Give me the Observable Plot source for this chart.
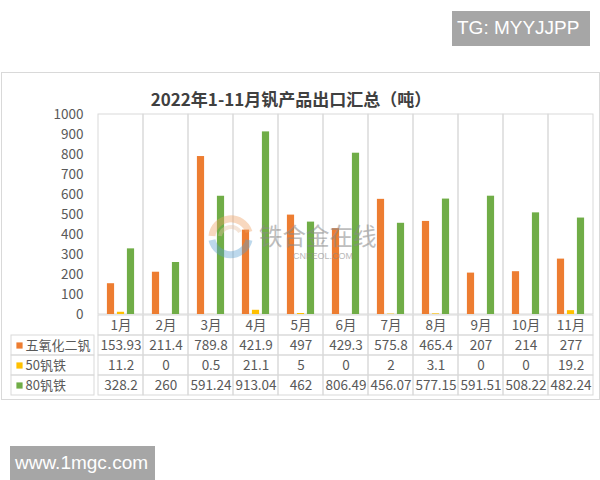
<!DOCTYPE html>
<html><head><meta charset="utf-8">
<script src="https://cdn.jsdelivr.net/npm/d3@7"></script>
<script src="https://cdn.jsdelivr.net/npm/@observablehq/plot@0.6"></script>
<style>
body{margin:0;background:#fff;}
#root{position:relative;width:600px;height:480px;background:#fff;overflow:hidden;font-family:"Noto Sans CJK SC","Noto Sans",sans-serif;}
.abs{position:absolute;}
.box{position:absolute;background:#a6a6a6;color:#fff;font-family:"Liberation Sans",Arial,sans-serif;font-size:19px;line-height:34px;padding-left:5px;box-sizing:border-box;}
</style>
</head><body>
<div id="root">
  <div class="abs" style="left:1px;top:72px;width:597px;height:326px;border:1px solid #d9d9d9;"></div>
  <div id="title" class="abs" style="left:0;top:87px;width:582px;text-align:center;font-size:17px;font-weight:bold;color:#404040;line-height:24px;"></div>
  <div id="plotA" class="abs" style="left:0;top:104px;"></div>
  <div id="plotB" class="abs" style="left:0;top:314px;"></div>
  <div id="plotC" class="abs" style="left:11px;top:334px;"></div>
  <svg class="abs" style="left:0;top:0;pointer-events:none" width="600" height="480">
    <g opacity="0.4">
      <path d="M212,236 A19,19 0 0 1 249,232" fill="none" stroke="#f0a060" stroke-width="7"/>
      <path d="M249,240 A19,19 0 0 1 212,240" fill="none" stroke="#5a9fd0" stroke-width="7"/>
      <path d="M220,236 A11,11 0 0 1 240,232" fill="none" stroke="#e8c0a0" stroke-width="4"/>
    </g>
    <text id="wm1" x="259" y="245" font-size="23.5" fill="#8a8a8a" opacity="0.55" font-family="Noto Sans CJK SC"></text>
    <text id="wm2" x="293" y="259" font-size="9" fill="#8a8a8a" opacity="0.6" font-family="Liberation Sans"></text>
  </svg>
  <div id="tg" class="box" style="left:452px;top:11px;width:138px;height:35px;"></div>
  <div id="www" class="box" style="left:10px;top:446px;width:145px;height:34px;"></div>
</div>
<script>
// ---- data ----
const titleText = "2022年1-11月钒产品出口汇总（吨）";
const months = ["1月","2月","3月","4月","5月","6月","7月","8月","9月","10月","11月"];
const seriesNames = ["五氧化二钒","50钒铁","80钒铁"];
const seriesColors = ["#ED7D31","#FFC000","#70AD47"];
const v2o5 = [153.93,211.4,789.8,421.9,497,429.3,575.8,465.4,207,214,277];
const fev50 = [11.2,0,0.5,21.1,5,0,2,3.1,0,0,19.2];
const fev80 = [328.2,260,591.24,913.04,462,806.49,456.07,577.15,591.51,508.22,482.24];
const yTicks = [0,100,200,300,400,500,600,700,800,900,1000];
const watermarkTop = "TG: MYYJJPP";
const watermarkBottom = "www.1mgc.com";
const logoText = "铁合金在线";
const logoSub = "CNFEOL.COM";

document.getElementById("title").textContent = titleText;
document.getElementById("tg").textContent = watermarkTop;
document.getElementById("www").textContent = watermarkBottom;
document.getElementById("wm1").textContent = logoText;
document.getElementById("wm2").textContent = logoSub;

const seriesValues = [v2o5, fev50, fev80];
const bars = [];
seriesValues.forEach((vals, si) => vals.forEach((v, i) => bars.push({month: months[i], series: seriesNames[si], si, value: v})));

const W = 600, mL = 93, mR = 3;
const bw = (W - mL - mR) / months.length;
const barW = 8, step = 10;
const font = {fontFamily: '"Noto Sans CJK SC","Noto Sans",sans-serif', fontSize: "13px", color: "#595959", background: "transparent", overflow: "visible"};

// ---- Plot A: bars ----
const plotA = Plot.plot({
  width: W, height: 211,
  marginLeft: mL, marginRight: mR, marginTop: 10, marginBottom: 1,
  style: font,
  x: {type: "band", domain: months, padding: 0, axis: null},
  y: {domain: [0, 1000], label: null, grid: false},
  marks: [
    Plot.barY(months, {x: d => d, y1: () => 0, y2: () => 1000, fill: "none", stroke: "#d9d9d9"}),
    ...seriesNames.map((name, si) => Plot.barY(bars.filter(b => b.si === si), {
      x: "month", y: "value", fill: seriesColors[si],
      insetLeft: (bw - barW) / 2, insetRight: (bw - barW) / 2, dx: (si - 1) * step
    })),
    Plot.axisY({ticks: yTicks, tickSize: 0, tickPadding: 10, label: null, tickFormat: d => String(d), fontSize: 13.5})
  ]
});
document.getElementById("plotA").appendChild(plotA);

// ---- Plot B: data table ----
const hdr = " ";
const rowKeys = [hdr, ...seriesNames];
const cells = [];
rowKeys.forEach((r) => months.forEach((m) => cells.push({row: r, month: m})));
const texts = [];
months.forEach((m) => texts.push({row: hdr, month: m, text: m}));
seriesValues.forEach((vals, si) => vals.forEach((v, i) => texts.push({row: seriesNames[si], month: months[i], text: String(v)})));

const plotB = Plot.plot({
  width: W, height: 81,
  marginLeft: mL, marginRight: mR, marginTop: 0, marginBottom: 0,
  style: font,
  x: {type: "band", domain: months, padding: 0, axis: null},
  y: {type: "band", domain: rowKeys, padding: 0, axis: null},
  marks: [
    Plot.cell(cells, {x: "month", y: "row", fill: "none", stroke: "#d9d9d9"}),
    Plot.text(texts, {x: "month", y: "row", text: "text", fill: "#595959", fontSize: 13.5})
  ]
});
document.getElementById("plotB").appendChild(plotB);

// ---- Plot C: row labels with legend keys ----
const plotC = Plot.plot({
  width: 83, height: 61,
  marginLeft: 0, marginRight: 0, marginTop: 0, marginBottom: 0,
  style: font,
  y: {type: "band", domain: seriesNames, padding: 0, axis: null},
  marks: [
    Plot.cell(seriesNames, {y: d => d, fill: "none", stroke: "#d9d9d9"}),
    Plot.dot(seriesNames, {y: d => d, frameAnchor: "left", dx: 8, symbol: "square", r: 3.5, fill: (d, i) => seriesColors[i], stroke: "none"}),
    Plot.text(seriesNames, {y: d => d, frameAnchor: "left", dx: 14, text: d => d, textAnchor: "start", fill: "#595959", fontSize: 13})
  ]
});
document.getElementById("plotC").appendChild(plotC);
</script>
</body></html>
